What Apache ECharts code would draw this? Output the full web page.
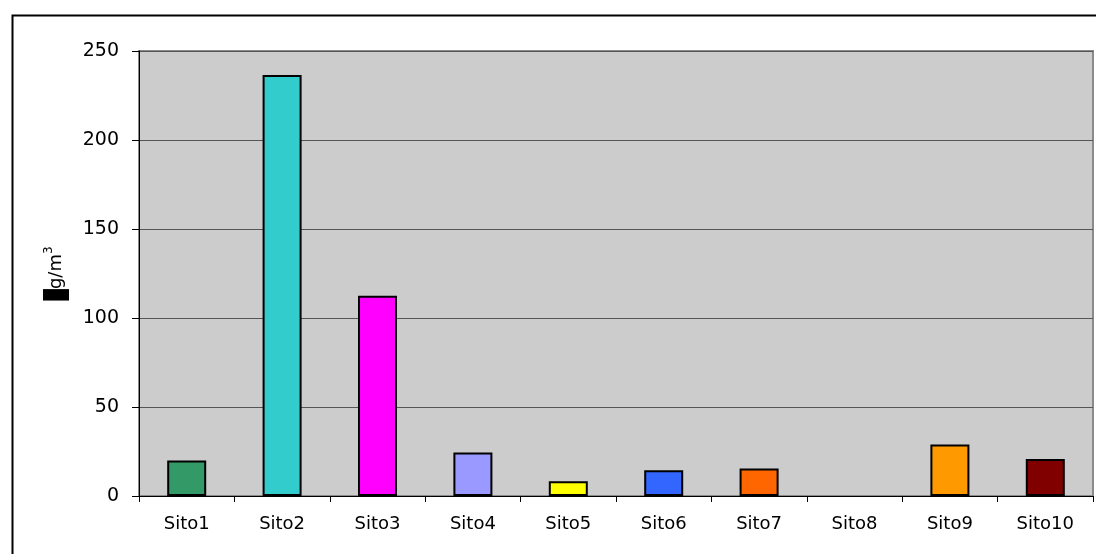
<!DOCTYPE html>
<html>
<head>
<meta charset="utf-8">
<script src="https://cdn.jsdelivr.net/npm/echarts@6/dist/echarts.min.js"></script>
<style>
html,body{margin:0;padding:0;background:#fff;}
#c{width:1096px;height:554px;}
</style>
</head>
<body>
<div id="c"></div>
<script>
const categories = ['Sito1','Sito2','Sito3','Sito4','Sito5','Sito6','Sito7','Sito8','Sito9','Sito10'];
const values = [20, 236.5, 112.5, 24.4, 8.3, 14.4, 15.4, null, 28.9, 20.8];
const yTicks = [0, 50, 100, 150, 200, 250];
const barColors = ['#339966','#33CCCC','#FF00FF','#9999FF','#FFFF00','#3366FF','#FF6600','#808080','#FF9900','#800000'];

const chart = echarts.init(document.getElementById('c'), null, {renderer:'canvas'});
const FONT = '"DejaVu Sans", sans-serif';
chart.setOption({
  animation:false,
  backgroundColor:'#ffffff',
  graphic:[{
    type:'rect', z:-1,
    shape:{x:12.5,y:15.5,width:1100,height:560},
    style:{fill:'none',stroke:'#000',lineWidth:2}
  }],
  grid:{left:139,right:3,top:51,bottom:58,show:true,backgroundColor:'#CCCCCC',borderColor:'#8a8a8a',borderWidth:2},
  xAxis:{
    type:'category',
    data:categories,
    boundaryGap:true,
    axisLine:{show:true,lineStyle:{color:'#000',width:1}},
    axisTick:{show:true,alignWithLabel:false,length:6,lineStyle:{color:'#000'}},
    axisLabel:{color:'#000',fontSize:18,fontFamily:FONT,margin:19},
    splitLine:{show:false}
  },
  yAxis:{
    type:'value',
    min:yTicks[0], max:yTicks[yTicks.length-1], interval:50,
    name:'{u|µ}g/m{s|3}',
    nameLocation:'middle',
    nameRotate:90,
    nameGap:70,
    nameTextStyle:{
      color:'#000',fontSize:18,fontFamily:FONT,
      rich:{
        u:{backgroundColor:'#000',color:'#000',fontSize:18,fontFamily:FONT,height:26},
        s:{fontSize:12,verticalAlign:'top',padding:[0,0,10,0],fontFamily:FONT,color:'#000'}
      }
    },
    axisLine:{show:true,lineStyle:{color:'#000',width:1}},
    axisTick:{show:true,length:7,lineStyle:{color:'#000'}},
    axisLabel:{color:'#000',fontSize:19,fontFamily:FONT,margin:20},
    splitLine:{show:true,lineStyle:{color:'#555',width:1}}
  },
  series:[{
    type:'bar',
    barWidth:39,
    data:values.map((v,i)=>({value:v,itemStyle:{color:barColors[i]}})),
    itemStyle:{borderColor:'#000',borderWidth:2}
  }]
});
</script>
</body>
</html>
